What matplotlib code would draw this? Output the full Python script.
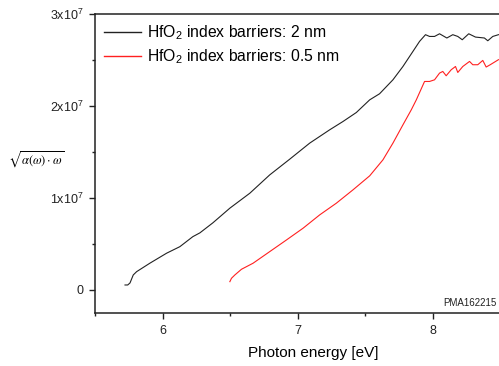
import numpy as np
import matplotlib
matplotlib.use("Agg")
import matplotlib.pyplot as plt
from matplotlib.ticker import FuncFormatter, MultipleLocator

plt.rcParams['font.family'] = ['Liberation Sans', 'DejaVu Sans']
plt.rcParams['mathtext.fontset'] = 'custom'
plt.rcParams['mathtext.rm'] = 'Liberation Sans'
plt.rcParams['mathtext.it'] = 'Liberation Sans:italic'

# --- data (x in eV, y in units of 1e7) ---
e_2nm = [5.722, 5.742, 5.759, 5.783, 5.808, 5.906, 6.030, 6.128, 6.224, 6.276,
         6.372, 6.498, 6.646, 6.793, 6.941, 7.089, 7.237, 7.335, 7.434, 7.533,
         7.606, 7.705, 7.779, 7.853, 7.902, 7.946, 7.976, 8.013, 8.050, 8.104,
         8.148, 8.185, 8.218, 8.266, 8.316, 8.382, 8.407, 8.444, 8.486]
y_2nm = [0.051, 0.051, 0.073, 0.160, 0.196, 0.288, 0.397, 0.468, 0.577, 0.618,
         0.727, 0.887, 1.050, 1.249, 1.420, 1.595, 1.740, 1.830, 1.928, 2.066,
         2.132, 2.284, 2.429, 2.593, 2.702, 2.775, 2.756, 2.756, 2.785, 2.739,
         2.775, 2.756, 2.720, 2.785, 2.749, 2.739, 2.709, 2.756, 2.775]

e_05nm = [6.498, 6.510, 6.535, 6.584, 6.670, 6.793, 6.917, 7.040, 7.163, 7.286,
          7.409, 7.533, 7.631, 7.705, 7.779, 7.841, 7.878, 7.939, 7.976, 8.013,
          8.050, 8.074, 8.099, 8.136, 8.168, 8.185, 8.222, 8.272, 8.296, 8.333,
          8.370, 8.395, 8.425, 8.486]
y_05nm = [0.087, 0.124, 0.160, 0.222, 0.288, 0.414, 0.541, 0.669, 0.814, 0.941,
          1.086, 1.239, 1.413, 1.595, 1.794, 1.958, 2.066, 2.266, 2.266, 2.284,
          2.357, 2.375, 2.328, 2.393, 2.429, 2.364, 2.429, 2.484, 2.448, 2.448,
          2.495, 2.423, 2.448, 2.503]

SCALE = 1e7

fig = plt.figure(figsize=(4.99, 3.66), dpi=100)
ax = fig.add_axes([0.1904, 0.1448, 0.8096, 0.8169])

ax.plot(e_2nm, np.array(y_2nm) * SCALE, color='#222222', lw=0.8,
        label=r'HfO$_2$ index barriers: 2 nm')
ax.plot(e_05nm, np.array(y_05nm) * SCALE, color='#ff2020', lw=0.8,
        label=r'HfO$_2$ index barriers: 0.5 nm')

ax.set_xlim(5.5, 8.49)
ax.set_ylim(-0.254e7, 3e7)

ax.xaxis.set_major_locator(MultipleLocator(1))
ax.xaxis.set_minor_locator(MultipleLocator(0.5))
ax.yaxis.set_major_locator(MultipleLocator(1e7))
ax.yaxis.set_minor_locator(MultipleLocator(0.5e7))


def sci(v, pos):
    n = int(round(v / 1e7))
    if n == 0:
        return '0'
    return r'$\mathregular{%dx10^7}$' % n


ax.yaxis.set_major_formatter(FuncFormatter(sci))
ax.tick_params(which='both', direction='out', width=1.0, colors='#222222',
               labelsize=9)
ax.tick_params(which='major', length=4.5)
ax.tick_params(which='minor', length=2.5)
ax.tick_params(axis='x', pad=4)
ax.tick_params(axis='y', pad=4)

for s in ['left', 'bottom', 'top']:
    ax.spines[s].set_linewidth(1.1)
    ax.spines[s].set_color('#222222')
ax.spines['right'].set_visible(False)

ax.set_xlabel('Photon energy [eV]', fontsize=11)
ax.xaxis.set_label_coords(0.54, -0.11)

yl = ax.set_ylabel(r'$\sqrt{\alpha(\omega)\cdot\omega}$', rotation=0,
                   fontsize=9, ha='center', va='center')
yl.set_math_fontfamily('stix')
ax.yaxis.set_label_coords(-0.146, 0.512)

leg = ax.legend(loc='upper left', frameon=False, fontsize=11.3, handlelength=2.3,
                handletextpad=0.4, labelspacing=0.35, borderpad=0.3,
                borderaxespad=0.3, bbox_to_anchor=(0.0, 1.0))
for h in leg.get_lines():
    h.set_linewidth(1.0)

ax.text(0.995, 0.035, 'PMA162215', transform=ax.transAxes, ha='right',
        va='center', fontsize=7, color='#222222')

fig.savefig('out.png', dpi=100)
